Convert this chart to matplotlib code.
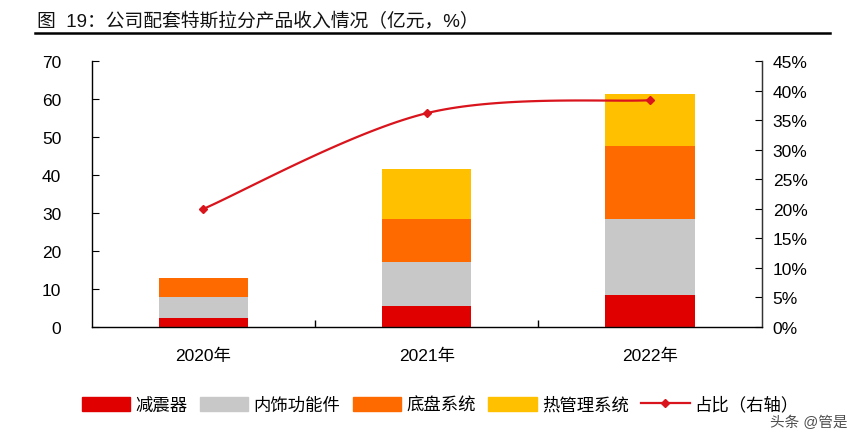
import numpy as np
import matplotlib
matplotlib.use("Agg")
import matplotlib.pyplot as plt
from matplotlib.lines import Line2D

plt.rcParams['font.family'] = ['Liberation Sans', 'Noto Sans CJK SC', 'DejaVu Sans']

# data
years = ['2020年', '2021年', '2022年']
shock = [2.4, 5.5, 8.4]          # 减震器
interior = [5.5, 11.6, 20.0]     # 内饰功能件
chassis = [5.0, 11.3, 19.2]      # 底盘系统
thermal = [0.0, 13.2, 13.7]      # 热管理系统
share = [20.0, 36.2, 38.4]       # 占比（右轴）, %

series_names = ['减震器', '内饰功能件', '底盘系统', '热管理系统']
colors = ['#E00000', '#C8C8C8', '#FF6A00', '#FFC000']
line_color = '#D9141C'


def smooth(xs, ys, n=40):
    # catmull-rom through the points, like excel's smoothed line
    xs = np.asarray(xs, float)
    ys = np.asarray(ys, float)
    px = np.concatenate([[xs[0]], xs, [xs[-1]]])
    py = np.concatenate([[ys[0]], ys, [ys[-1]]])
    out_x, out_y = [], []
    t = np.linspace(0, 1, n)
    for i in range(1, len(px) - 2):
        for p, out in ((px, out_x), (py, out_y)):
            p0, p1, p2, p3 = p[i - 1], p[i], p[i + 1], p[i + 2]
            seg = 0.5 * ((2 * p1) + (-p0 + p2) * t
                         + (2 * p0 - 5 * p1 + 4 * p2 - p3) * t ** 2
                         + (-p0 + 3 * p1 - 3 * p2 + p3) * t ** 3)
            out.extend(seg)
    return np.array(out_x), np.array(out_y)


fig = plt.figure(figsize=(8.5, 4.35), dpi=100)
ax = fig.add_axes([0.108, 0.246, 0.788, 0.611])

x = np.arange(len(years))
bottom = np.zeros(len(years))
for vals, c, name in zip([shock, interior, chassis, thermal], colors, series_names):
    ax.bar(x, vals, width=0.4, bottom=bottom, color=c, label=name, zorder=2)
    bottom += np.array(vals)

ax.set_xlim(-0.5, 2.5)
ax.set_ylim(0, 70)
ax.set_yticks(range(0, 71, 10))
ax.set_xticks(x)
ax.set_xticklabels(years, fontsize=12.5)
ax.set_xticks([0.5, 1.5], minor=True)
ax.tick_params(axis='x', which='major', length=0, pad=15)
ax.tick_params(axis='x', which='minor', direction='in', length=5, width=1)
ax.tick_params(axis='y', direction='in', length=5, labelsize=12.5, pad=22)
ax.spines['top'].set_visible(False)
for s in ['left', 'bottom', 'right']:
    ax.spines[s].set_color('#333333')
    ax.spines[s].set_linewidth(1)

ax2 = ax.twinx()
ax2.set_ylim(0, 45)
ax2.set_yticks(range(0, 46, 5))
ax2.set_yticklabels([f'{v}%' for v in range(0, 46, 5)])
ax2.tick_params(axis='y', direction='in', length=5, labelsize=12.5, pad=8)
ax2.spines['top'].set_visible(False)
ax2.spines['right'].set_color('#333333')
sx, sy = smooth(x, share)
ax2.plot(sx, sy, color=line_color, lw=1.6, zorder=3)
ax2.plot(x, share, ls='none', marker='D', ms=4, color=line_color, zorder=4)

# legend
handles = [plt.Rectangle((0, 0), 1, 1, color=c) for c in colors]
handles.append(Line2D([], [], color=line_color, lw=1.6, marker='D', ms=4))
labels = series_names + ['占比（右轴）']
fig.legend(handles, labels, loc='center', bbox_to_anchor=(0.518, 0.068), ncol=5,
           frameon=False, fontsize=12.5, handlelength=2.8, handleheight=0.9,
           columnspacing=0.7, handletextpad=0.3)

# title with underline
fig.text(0.044, 0.95, '图  19：公司配套特斯拉分产品收入情况（亿元，%）', fontsize=13.5,
         ha='left', va='center', color='#111111')
fig.add_artist(Line2D([0.041, 0.977], [0.922, 0.922], color='black', lw=1.8))

# watermark in the corner
fig.text(0.997, 0.028, '头条 @管是', fontsize=10.5, color='#222222', alpha=0.8,
         ha='right', va='center')

fig.savefig('out.png', dpi=100)
